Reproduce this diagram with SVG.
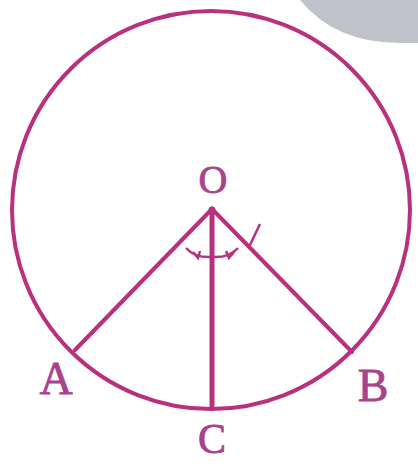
<svg xmlns="http://www.w3.org/2000/svg" width="418" height="464" viewBox="0 0 418 464">
<style>
.ln{stroke:#b8307e;stroke-width:4;fill:none;stroke-linecap:round}
.mk{stroke:#b8307e;stroke-width:2.5;fill:none}
.lbl{font-family:"Liberation Serif","Times New Roman",serif;font-size:46px;fill:#a8428a;stroke:#a8428a;stroke-width:0.8;text-anchor:middle}
</style>
<rect width="418" height="464" fill="#ffffff"/>
<path d="M300,0 Q335,43 400,43 L418,43 L418,0 Z" fill="#bfc3c9"/>
<g id="circle"><circle cx="211" cy="210" r="199" class="ln"/></g>
<g id="connectors">
<line x1="212" y1="209" x2="75" y2="350" class="ln"/>
<line x1="212" y1="209" x2="352" y2="352" class="ln"/>
<line x1="212" y1="209" x2="212" y2="408" class="ln" style="stroke-width:5"/>
<path d="M186,248 Q195,258 212,257 Q229,258 238,248" class="mk"/>
<path d="M193,252 L198,258 L200,251" class="mk"/>
<path d="M226,251 L229,258 L234,252" class="mk"/>
<path d="M243,240 L249,247 L260,224" class="mk"/>
<circle cx="212" cy="210" r="3.5" fill="#b8307e"/>
</g>
<g id="O"><text x="213" y="193" class="lbl" style="font-size:40px">O</text></g>
<g id="A"><text x="56" y="394" class="lbl">A</text></g>
<g id="B"><text x="373" y="401" class="lbl">B</text></g>
<g id="C"><text x="212" y="453" class="lbl" style="font-size:42px">C</text></g>
</svg>
